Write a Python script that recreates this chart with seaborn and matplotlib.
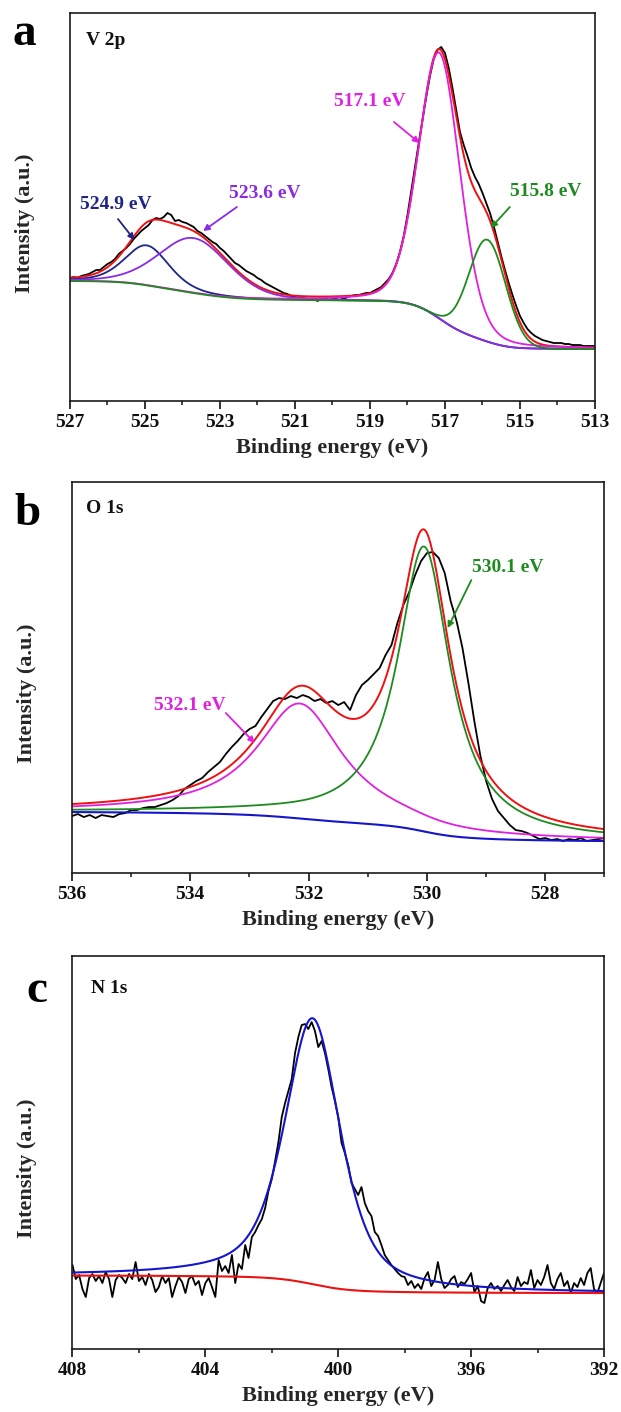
import numpy as np
import matplotlib
matplotlib.use("Agg")
import matplotlib.pyplot as plt
from matplotlib.ticker import FixedLocator, AutoMinorLocator
import seaborn as sns

# ---------------- measured spectra (0.1 eV steps, high -> low binding energy) ----------------
V2P_START = 527.0
V2P_COUNTS = [
    123, 124, 123, 125, 126, 127, 129, 131, 131, 134,   # 527.0 - 526.1
    137, 139, 142, 147, 150, 153, 157, 162, 166, 170,   # 526.0 - 525.1
    173, 176, 181, 183, 182, 184, 188, 186, 180, 181,   # 525.0 - 524.1
    179, 178, 176, 174, 170, 168, 165, 162, 159, 157,   # 524.0 - 523.1
    153, 150, 146, 142, 138, 136, 133, 130, 128, 126,   # 523.0 - 522.1
    123, 121, 118, 116, 114, 112, 110, 108, 107, 105,   # 522.0 - 521.1
    104, 103, 104, 102, 101, 102, 100, 102, 103, 101,   # 521.0 - 520.1
    102, 103, 104, 102, 104, 105, 106, 106, 107, 108,   # 520.0 - 519.1
    108, 110, 112, 114, 118, 122, 128, 137, 149, 165,   # 519.0 - 518.1
    186, 210, 234, 258, 281, 304, 325, 342, 351, 354,   # 518.0 - 517.1
    348, 333, 313, 291, 269, 256, 245, 233, 224, 217,   # 517.0 - 516.1
    208, 198, 188, 175, 160, 145, 131, 118, 106, 95,    # 516.0 - 515.1
    85, 78, 72, 68, 65, 63, 61, 60, 59, 58,             # 515.0 - 514.1
    58, 58, 57, 57, 56, 56, 56, 55, 55, 55,             # 514.0 - 513.1
    55,                                                 # 513.0
]

O1S_START = 536.0
O1S_COUNTS = [
    57, 59, 56, 58, 55, 58, 57, 56, 59, 60,             # 536.0 - 535.1
    63, 63, 65, 66, 66, 68, 70, 73, 77, 84,             # 535.0 - 534.1
    88, 92, 95, 101, 106, 111, 119, 126, 132, 139,      # 534.0 - 533.1
    144, 147, 156, 164, 172, 175, 174, 177, 175, 178,   # 533.0 - 532.1
    176, 172, 174, 170, 172, 168, 171, 163, 178, 188,   # 532.0 - 531.1
    193, 199, 205, 218, 228, 250, 268, 281, 298, 312,   # 531.0 - 530.1
    320, 321, 315, 300, 272, 252, 225, 190, 152, 118,   # 530.0 - 529.1
    92, 74, 62, 55, 48, 43, 42, 40, 37, 34,             # 529.0 - 528.1
    35, 33, 34, 32, 34, 33, 35, 32, 33, 34,             # 528.0 - 527.1
    35,                                                 # 527.0
]

N1S_START = 408.0
N1S_COUNTS = [
    84, 70, 74, 60, 52, 71, 75, 68, 73, 66,             # 408.0 - 407.1
    77, 70, 52, 69, 74, 71, 66, 75, 70, 87,             # 407.0 - 406.1
    68, 72, 64, 75, 69, 57, 62, 73, 66, 71,             # 406.0 - 405.1
    52, 63, 72, 67, 56, 70, 73, 64, 68, 54,             # 405.0 - 404.1
    66, 71, 62, 52, 89, 78, 83, 76, 94, 66,             # 404.0 - 403.1
    85, 80, 104, 91, 112, 117, 124, 130, 141, 158,      # 403.0 - 402.1
    170, 188, 207, 232, 246, 258, 270, 296, 312, 324,   # 402.0 - 401.1
    325, 320, 327, 318, 302, 308, 296, 280, 262, 248,   # 401.0 - 400.1
    232, 206, 196, 184, 166, 160, 154, 162, 146, 138,   # 400.0 - 399.1
    133, 117, 113, 104, 94, 89, 84, 80, 76, 73,         # 399.0 - 398.1
    72, 64, 68, 61, 65, 60, 71, 77, 63, 69,             # 398.0 - 397.1
    87, 70, 61, 64, 70, 73, 62, 67, 65, 70,             # 397.0 - 396.1
    76, 57, 63, 48, 46, 61, 66, 60, 63, 58,             # 396.0 - 395.1
    64, 69, 62, 58, 72, 63, 67, 65, 79, 61,             # 395.0 - 394.1
    69, 64, 72, 84, 66, 60, 70, 76, 63, 68,             # 394.0 - 393.1
    56, 66, 62, 71, 64, 76, 81, 60, 56, 66,             # 393.0 - 392.1
    76,                                                 # 392.0
]
STEP = 0.1

# ---------------- fitted components ----------------
# V 2p: centre (eV), height above background, FWHM (eV), Lorentzian fraction
V2P_LABELS = ["524.9 eV", "523.6 eV", "517.1 eV", "515.8 eV"]
V2P_CENTRES = [524.95, 523.7, 517.15, 515.87]
V2P_HEIGHTS = [40, 55, 266, 102]
V2P_FWHM = [1.4, 2.2, 1.3, 1.15]
V2P_LFRAC = [0.4, 0.2, 0.2, 0.0]
V2P_BG_ENDS = (120, 52)          # background at 527 eV and at 513 eV

O1S_LABELS = ["532.1 eV", "530.1 eV"]
O1S_CENTRES = [532.15, 530.05]
O1S_HEIGHTS = [115, 285]
O1S_FWHM = [1.75, 1.08]
O1S_LFRAC = [1.0, 1.0]
O1S_BG_ENDS = (61, 32)

N1S_CENTRES = [400.77]
N1S_HEIGHTS = [266]
N1S_FWHM = [2.0]
N1S_LFRAC = [0.6]
N1S_BG_ENDS = (73.5, 56)

# axis ticks
V2P_TICKS = [527, 525, 523, 521, 519, 517, 515, 513]
O1S_TICKS = [536, 534, 532, 530, 528]
N1S_TICKS = [408, 404, 400, 396, 392]

# ---------------- styling ----------------
sns.set_style("ticks")
plt.rcParams["font.family"] = ["Liberation Serif", "DejaVu Serif"]
plt.rcParams["font.weight"] = "bold"
plt.rcParams["axes.labelweight"] = "bold"

NAVY = "#1f2585"
VIOLET = "#8a2be2"
MAGENTA = "#e020e0"
GREEN = "#1f8a1f"
RED = "#ee1111"
BLUE = "#1515cc"
LW = 1.3


def pseudo_voigt(e, centre, height, fwhm, lfrac):
    x = (e - centre) / (fwhm / 2.0)
    return height * ((1 - lfrac) * np.exp(-np.log(2) * x ** 2) + lfrac / (1 + x ** 2))


def shirley(e, peak_sum, high_be_level, low_be_level):
    """Shirley-type step: background follows the integrated peak area."""
    order = np.argsort(e)
    ea, pa = e[order], peak_sum[order]
    cum = np.concatenate([[0.0], np.cumsum(0.5 * (pa[1:] + pa[:-1]) * np.diff(ea))])
    frac = cum / cum[-1]
    bg_sorted = low_be_level + (high_be_level - low_be_level) * frac
    bg = np.empty_like(bg_sorted)
    bg[order] = bg_sorted
    return bg


def energies(start, n):
    return start - STEP * np.arange(n)


def line(ax, x, y, color, lw=LW):
    sns.lineplot(x=x, y=y, ax=ax, color=color, linewidth=lw,
                 estimator=None, sort=False, legend=False)


def style_axis(ax, ticks, xlim, ylim, core_label):
    ax.set_xlim(*xlim)
    ax.set_ylim(*ylim)
    ax.xaxis.set_major_locator(FixedLocator(ticks))
    ax.xaxis.set_minor_locator(AutoMinorLocator(2))
    ax.set_xticklabels([str(t) for t in ticks])
    ax.tick_params(axis="x", which="major", direction="out", length=6, width=1.2,
                   pad=3.5, labelsize=14, colors="#111111")
    ax.tick_params(axis="x", which="minor", direction="out", length=3, width=1.2)
    ax.tick_params(axis="y", which="both", left=False, right=False, labelleft=False)
    for lab in ax.get_xticklabels():
        lab.set_fontweight("bold")
    for sp in ax.spines.values():
        sp.set_visible(True)
        sp.set_linewidth(1.2)
        sp.set_color("#1a1a1a")
    ax.set_xlabel("Binding energy (eV)", fontsize=16, fontweight="bold", labelpad=5)
    ax.set_ylabel("Intensity (a.u.)", fontsize=16, fontweight="bold")
    w_px = ax.get_position().width * 621
    ax.yaxis.set_label_coords(-35 / w_px, 0.459)
    ax.text(core_label[1], core_label[2], core_label[0], transform=ax.transAxes,
            fontsize=14, fontweight="bold", ha="left", va="baseline", color="#111111")


def annotate(ax, text, text_xy, tail_xy, head_xy, color):
    ax.text(text_xy[0], text_xy[1], text, color=color, fontsize=14,
            fontweight="bold", ha="center", va="center")
    ax.annotate("", xy=head_xy, xytext=tail_xy,
                arrowprops=dict(arrowstyle="-|>", color=color, lw=1.3,
                                mutation_scale=9, shrinkA=0, shrinkB=0))


fig = plt.figure(figsize=(6.21, 14.12), dpi=100)

# ================= (a) V 2p =================
ax_a = fig.add_axes([0.1127, 0.7160, 0.8454, 0.2748])
e_a = energies(V2P_START, len(V2P_COUNTS))
grid_a = np.linspace(527, 513, 701)
comps_a = [pseudo_voigt(grid_a, c, h, w, l) for c, h, w, l in
           zip(V2P_CENTRES, V2P_HEIGHTS, V2P_FWHM, V2P_LFRAC)]
bg_a = shirley(grid_a, np.sum(comps_a, axis=0), *V2P_BG_ENDS)
line(ax_a, e_a, np.array(V2P_COUNTS, float), "black")
line(ax_a, grid_a, bg_a + np.sum(comps_a, axis=0), RED, 1.4)
for comp, col in zip(comps_a, [NAVY, VIOLET, MAGENTA, GREEN]):
    line(ax_a, grid_a, bg_a + comp, col)
style_axis(ax_a, V2P_TICKS, (527, 513), (0, 388), ("V 2p", 0.0305, 0.9175))
annotate(ax_a, V2P_LABELS[0], (525.78, 196), (525.72, 182), (525.28, 161), NAVY)
annotate(ax_a, V2P_LABELS[1], (521.8, 207), (522.55, 194), (523.45, 170), VIOLET)
annotate(ax_a, V2P_LABELS[2], (519.0, 299), (518.36, 279), (517.68, 258), MAGENTA)
annotate(ax_a, V2P_LABELS[3], (514.3, 209), (515.27, 194), (515.78, 173), GREEN)

# ================= (b) O 1s =================
ax_b = fig.add_axes([0.1159, 0.3817, 0.8575, 0.2769])
e_b = energies(O1S_START, len(O1S_COUNTS))
grid_b = np.linspace(536, 527, 601)
comps_b = [pseudo_voigt(grid_b, c, h, w, l) for c, h, w, l in
           zip(O1S_CENTRES, O1S_HEIGHTS, O1S_FWHM, O1S_LFRAC)]
bg_b = shirley(grid_b, np.sum(comps_b, axis=0), *O1S_BG_ENDS)
line(ax_b, e_b, np.array(O1S_COUNTS, float), "black")
line(ax_b, grid_b, bg_b + np.sum(comps_b, axis=0), RED, 1.4)
line(ax_b, grid_b, bg_b + comps_b[0], MAGENTA)
line(ax_b, grid_b, bg_b + comps_b[1], GREEN)
line(ax_b, grid_b, bg_b, BLUE, 1.5)
style_axis(ax_b, O1S_TICKS, (536, 527), (0, 391), ("O 1s", 0.027, 0.921))
annotate(ax_b, O1S_LABELS[0], (534.0, 168), (533.40, 160), (532.91, 130), MAGENTA)
annotate(ax_b, O1S_LABELS[1], (528.63, 306), (529.25, 293), (529.65, 245), GREEN)

# ================= (c) N 1s =================
ax_c = fig.add_axes([0.1167, 0.0446, 0.8559, 0.2783])
e_c = energies(N1S_START, len(N1S_COUNTS))
grid_c = np.linspace(408, 392, 801)
comps_c = [pseudo_voigt(grid_c, c, h, w, l) for c, h, w, l in
           zip(N1S_CENTRES, N1S_HEIGHTS, N1S_FWHM, N1S_LFRAC)]
bg_c = shirley(grid_c, np.sum(comps_c, axis=0), *N1S_BG_ENDS)
line(ax_c, e_c, np.array(N1S_COUNTS, float), "black")
line(ax_c, grid_c, bg_c, RED, 1.5)
line(ax_c, grid_c, bg_c + comps_c[0], BLUE, 1.5)
style_axis(ax_c, N1S_TICKS, (408, 392), (0, 393), ("N 1s", 0.035, 0.906))

# panel letters
for letter, (x, y) in zip(["a", "b", "c"],
                          [(13 / 621, 1 - 45 / 1412),
                           (14 / 621, 1 - 525 / 1412),
                           (26 / 621, 1 - 1002 / 1412)]):
    fig.text(x, y, letter, fontsize=34, fontweight="bold", ha="left",
             va="baseline", color="black")

fig.savefig("out.png", dpi=100)
